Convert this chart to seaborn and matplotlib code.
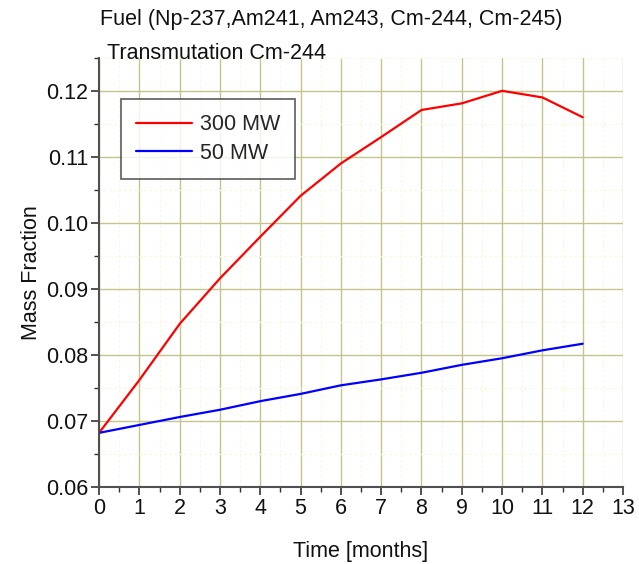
import matplotlib
matplotlib.use("Agg")
import matplotlib.pyplot as plt
import seaborn as sns
import pandas as pd
from matplotlib.ticker import MultipleLocator, FormatStrFormatter

months = [0, 1, 2, 3, 4, 5, 6, 7, 8, 9, 10, 11, 12]
mw300 = [0.0682, 0.0762, 0.0847, 0.0916, 0.0979, 0.1041, 0.1090, 0.1130, 0.1171,
         0.1181, 0.1200, 0.1190, 0.1160]
mw50 = [0.0682, 0.0694, 0.0706, 0.0717, 0.0730, 0.0741, 0.0754, 0.0763, 0.0773,
        0.0785, 0.0795, 0.0807, 0.0817]
series_names = ["300 MW", "50 MW"]
colors = ["#ff0000", "#0000ff"]

df = pd.DataFrame({
    "Time": months * 2,
    "Mass": mw300 + mw50,
    "Series": [series_names[0]] * len(months) + [series_names[1]] * len(months),
})

sns.set_style("white")
plt.rcParams["font.family"] = ["Liberation Sans", "DejaVu Sans"]

fig = plt.figure(figsize=(6.39, 5.64), dpi=100)
ax = fig.add_axes([0.155, 0.1365, 0.820, 0.761])

sns.lineplot(data=df, x="Time", y="Mass", hue="Series", palette=colors,
             linewidth=1.6, ax=ax, legend=True)

ax.set_xlim(0, 13)
ax.set_ylim(0.06, 0.125)
ax.xaxis.set_major_locator(MultipleLocator(1))
ax.xaxis.set_minor_locator(MultipleLocator(0.5))
ax.yaxis.set_major_locator(MultipleLocator(0.01))
ax.yaxis.set_minor_locator(MultipleLocator(0.005))
ax.yaxis.set_major_formatter(FormatStrFormatter("%.2f"))
ax.set_yticks([0.06, 0.07, 0.08, 0.09, 0.10, 0.11, 0.12])

ax.grid(True, which="major", color="#c4c48c", linewidth=1.0)
ax.grid(True, which="minor", color="#f8f8dc", linewidth=0.9, linestyle=(0, (2, 2)))
ax.set_axisbelow(True)

for s in ["top", "right"]:
    ax.spines[s].set_visible(False)
for s in ["left", "bottom"]:
    ax.spines[s].set_color("#505050")
    ax.spines[s].set_linewidth(1.5)

ax.tick_params(which="major", direction="out", length=6, width=1.2, color="#333333",
               labelsize=15.5, labelcolor="#111111", bottom=True, left=True, pad=2)
ax.tick_params(which="minor", direction="out", length=3.5, width=1.0, color="#333333",
               bottom=True, left=True)

ax.set_xlabel("Time [months]", fontsize=15.5, color="#111111", labelpad=16)
ax.set_ylabel("Mass Fraction", fontsize=15.5, color="#111111", labelpad=3)

leg = ax.legend(loc="upper left", bbox_to_anchor=(0.042, 0.904), fontsize=15.5,
                frameon=True, fancybox=False, handlelength=2.6, borderpad=0.7,
                labelspacing=0.35, handletextpad=0.35, borderaxespad=0)
leg.get_frame().set_edgecolor("#333333")
leg.get_frame().set_linewidth(1.2)
for line in leg.get_lines():
    line.set_linewidth(1.6)

fig.text(0.518, 0.966, "Fuel (Np-237,Am241, Am243, Cm-244, Cm-245)", ha="center", va="center",
         fontsize=15.5, color="#111111")
fig.text(0.168, 0.906, "Transmutation Cm-244", ha="left", va="center",
         fontsize=15.5, color="#111111")

fig.savefig("out.png", dpi=100)
